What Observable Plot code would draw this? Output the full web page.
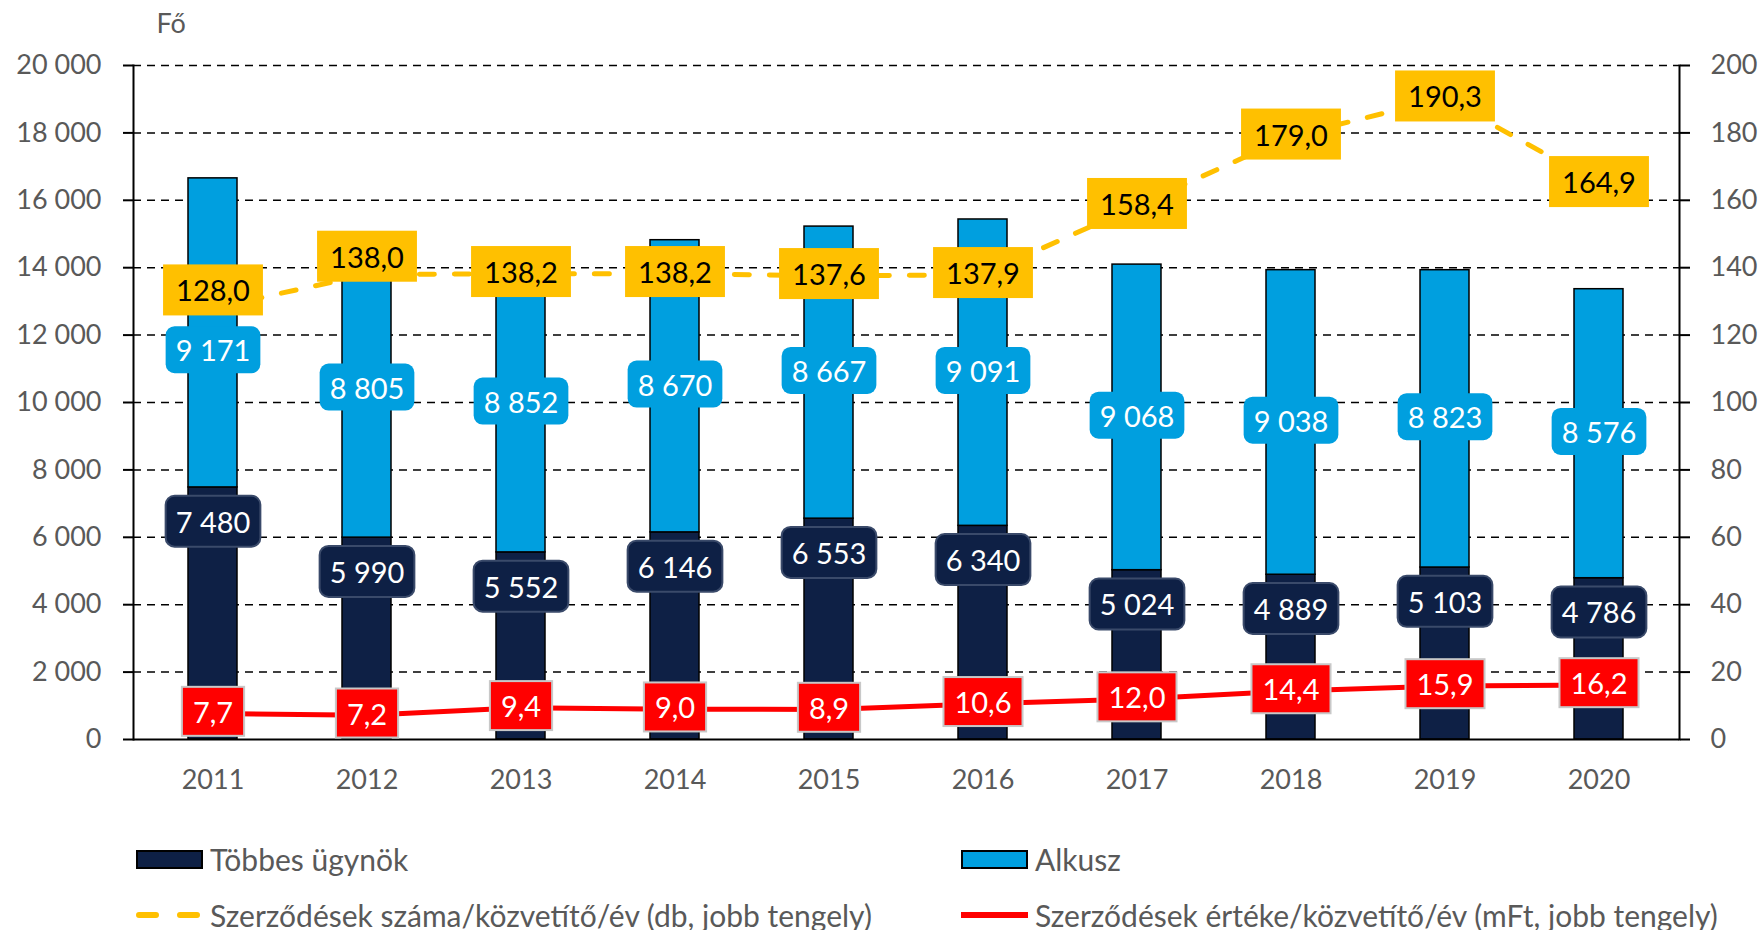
<!DOCTYPE html>
<html><head><meta charset="utf-8">
<script src="https://cdn.jsdelivr.net/npm/d3@7"></script>
<script src="https://cdn.jsdelivr.net/npm/@observablehq/plot@0.6"></script>
<style>
body{margin:0;background:#fff;font-family:Lato,"Open Sans",sans-serif;}
#chart{width:1762px;height:800px;}
#legend{position:relative;width:1762px;height:130px;color:#595959;font-size:30px;}
.item{position:absolute;height:40px;display:flex;align-items:center;white-space:nowrap;}
.item .sw{width:67px;margin-right:7px;box-sizing:border-box;}
</style></head><body>
<div id="chart"></div>
<div id="legend">
  <div class="item" style="left:136px;top:39px"><div class="sw" style="height:19px;background:#0e2045;border:2px solid #000"></div>Többes ügynök</div>
  <div class="item" style="left:961px;top:39px"><div class="sw" style="height:19px;background:#009fdf;border:2px solid #000"></div>Alkusz</div>
  <div class="item" style="left:136px;top:95px"><svg class="sw" width="67" height="10" viewBox="0 0 67 10"><line x1="3" y1="5" x2="64" y2="5" stroke="#ffc000" stroke-width="6" stroke-linecap="round" stroke-dasharray="17,24"/></svg>Szerződések száma/közvetítő/év (db, jobb tengely)</div>
  <div class="item" style="left:961px;top:95px"><svg class="sw" width="67" height="10" viewBox="0 0 67 10"><line x1="0" y1="5" x2="67" y2="5" stroke="#ff0000" stroke-width="6"/></svg>Szerződések értéke/közvetítő/év (mFt, jobb tengely)</div>
</div>
<script>
const years = ["2011","2012","2013","2014","2015","2016","2017","2018","2019","2020"];
const tobbesUgynok = [7480,5990,5552,6146,6553,6340,5024,4889,5103,4786];
const alkusz = [9171,8805,8852,8670,8667,9091,9068,9038,8823,8576];
const szerzodesekSzama = [128.0,138.0,138.2,138.2,137.6,137.9,158.4,179.0,190.3,164.9];
const szerzodesekErteke = [7.7,7.2,9.4,9.0,8.9,10.6,12.0,14.4,15.9,16.2];
const leftTicks = [0,2000,4000,6000,8000,10000,12000,14000,16000,18000,20000];
const rightTicks = [0,20,40,60,80,100,120,140,160,180,200];

const NAVY = "#0e2045", BLUE = "#009fdf", YELLOW = "#ffc000", RED = "#ff0000", GREY = "#595959";
const RIGHT = 100; // right axis (0–200) mapped onto the left scale (0–20 000)

const rows = years.map((year, i) => ({
  i, year,
  tobbes: tobbesUgynok[i],
  alkusz: alkusz[i],
  total: tobbesUgynok[i] + alkusz[i],
  szam: szerzodesekSzama[i],
  ertek: szerzodesekErteke[i]
}));

const fmtInt = d => d3.format(",")(d).replace(/,/g, " ");
const fmtDec = d => d.toFixed(1).replace(".", ",");
const FS = 29;

const chart = Plot.plot({
  width: 1762,
  height: 800,
  marginTop: 65,
  marginBottom: 61,
  marginLeft: 133,
  marginRight: 83,
  style: {fontFamily: "Lato, 'Open Sans', sans-serif", color: GREY, background: "white", overflow: "visible"},
  x: {type: "band", domain: years, paddingInner: 0.68, paddingOuter: 0.34},
  y: {domain: [0, 20000]},
  marks: [
    Plot.ruleY(leftTicks.filter(d => d > 0), {stroke: "black", strokeWidth: 1.5, strokeDasharray: "8,6"}),
    Plot.barY(rows, {x: "year", y1: 0, y2: "tobbes", fill: NAVY, stroke: "black", strokeWidth: 1.5}),
    Plot.barY(rows, {x: "year", y1: "tobbes", y2: "total", fill: BLUE, stroke: "black", strokeWidth: 1.5}),
    Plot.ruleY([0], {stroke: "black", strokeWidth: 2}),
    Plot.frame({anchor: "left", stroke: "black", strokeWidth: 2}),
    Plot.frame({anchor: "right", stroke: "black", strokeWidth: 2}),
    Plot.axisY({ticks: leftTicks, tickFormat: fmtInt, tickSize: 10, tickPadding: 22, stroke: "black", strokeWidth: 2, fill: GREY, fontSize: 27, label: null}),
    Plot.axisY({anchor: "right", ticks: rightTicks.map(v => v * RIGHT), tickFormat: d => String(d / RIGHT), tickSize: 10, tickPadding: 21, stroke: "black", strokeWidth: 2, fill: GREY, fontSize: 27, label: null}),
    Plot.axisX({tickSize: 0, tickPadding: 30, fill: GREY, fontSize: 27, label: null}),
    Plot.line(rows, {x: "year", y: d => d.szam * RIGHT, stroke: YELLOW, strokeWidth: 5, strokeDasharray: "15,20", strokeLinecap: "round"}),
    Plot.line(rows, {x: "year", y: d => d.ertek * RIGHT, stroke: RED, strokeWidth: 5}),
    Plot.text(rows, {x: "year", y: "tobbes", dy: 36, text: d => fmtInt(d.tobbes), fill: "white", fontSize: FS, ariaDescription: "lbl-navy"}),
    Plot.text(rows.filter(d => d.i > 0), {x: "year", y: d => d.tobbes + d.alkusz / 2, text: d => fmtInt(d.alkusz), fill: "white", fontSize: FS, ariaDescription: "lbl-blue"}),
    Plot.text(rows.filter(d => d.i === 0), {x: "year", y: d => d.tobbes + d.alkusz / 2, dy: 19, text: d => fmtInt(d.alkusz), fill: "white", fontSize: FS, ariaDescription: "lbl-blue"}),
    Plot.text(rows.filter(d => d.i > 1), {x: "year", y: d => d.szam * RIGHT, text: d => fmtDec(d.szam), fill: "black", fontSize: FS, ariaDescription: "lbl-yellow"}),
    Plot.text(rows.filter(d => d.i <= 1), {x: "year", y: d => d.szam * RIGHT, dy: -16, text: d => fmtDec(d.szam), fill: "black", fontSize: FS, ariaDescription: "lbl-yellow"}),
    Plot.text(rows, {x: "year", y: d => d.ertek * RIGHT, text: d => fmtDec(d.ertek), fill: "white", fontSize: FS, ariaDescription: "lbl-red"}),
    Plot.text(["Fő"], {frameAnchor: "top-left", dx: 23, dy: -52, fill: GREY, fontSize: 27})
  ]
});
document.getElementById("chart").appendChild(chart);

function addBoxes(label, fill, stroke, rx, padX, padY) {
  chart.querySelectorAll(`g[aria-description="${label}"] text`).forEach(t => {
    const b = t.getBBox();
    const r = document.createElementNS("http://www.w3.org/2000/svg", "rect");
    r.setAttribute("x", b.x - padX);
    r.setAttribute("y", b.y - padY);
    r.setAttribute("width", b.width + 2 * padX);
    r.setAttribute("height", b.height + 2 * padY);
    r.setAttribute("rx", rx);
    r.setAttribute("fill", fill);
    if (stroke) { r.setAttribute("stroke", stroke); r.setAttribute("stroke-width", 2); }
    const tr = t.getAttribute("transform");
    if (tr) r.setAttribute("transform", tr);
    t.parentNode.insertBefore(r, t);
  });
}
addBoxes("lbl-navy", NAVY, "#3a4a6a", 9, 10, 8);
addBoxes("lbl-blue", BLUE, null, 9, 10, 6);
addBoxes("lbl-yellow", YELLOW, null, 0, 13, 8);
addBoxes("lbl-red", RED, "#c8c8c8", 0, 11, 7);
</script>
</body></html>
